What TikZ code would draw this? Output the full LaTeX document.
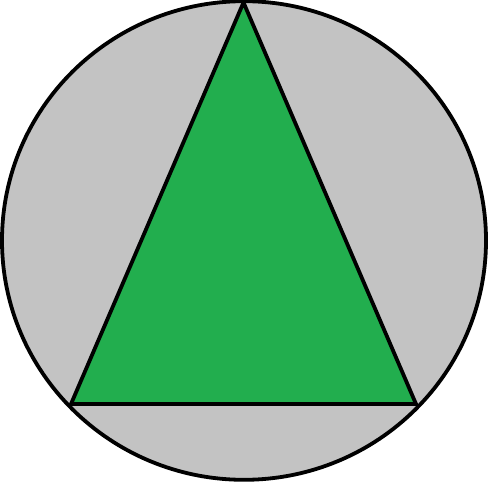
\documentclass[tikz,border=0pt]{standalone}
\usepackage{tikz}
\definecolor{cGray}{HTML}{C3C3C3}
\definecolor{cGreen}{HTML}{22AE4E}

\begin{document}
\begin{tikzpicture}[
    x=1pt, y=1pt,
    filled/.style={draw=black, line width=3.8pt, line join=miter, fill=#1},
  ]
  \useasboundingbox (0,0) rectangle (489,482);
  % outer disc
  \coordinate (ctr) at (244,241.5);
  \path[filled=cGray] (ctr) ellipse [x radius=242, y radius=239.3];

  % inscribed triangle
  \coordinate (apex)  at (243.5,479.5);
  \coordinate (left)  at (71,78);
  \coordinate (right) at (416,78);
  \path[filled=cGreen] (apex) -- (left) -- (right) -- cycle;
\end{tikzpicture}
\end{document}
